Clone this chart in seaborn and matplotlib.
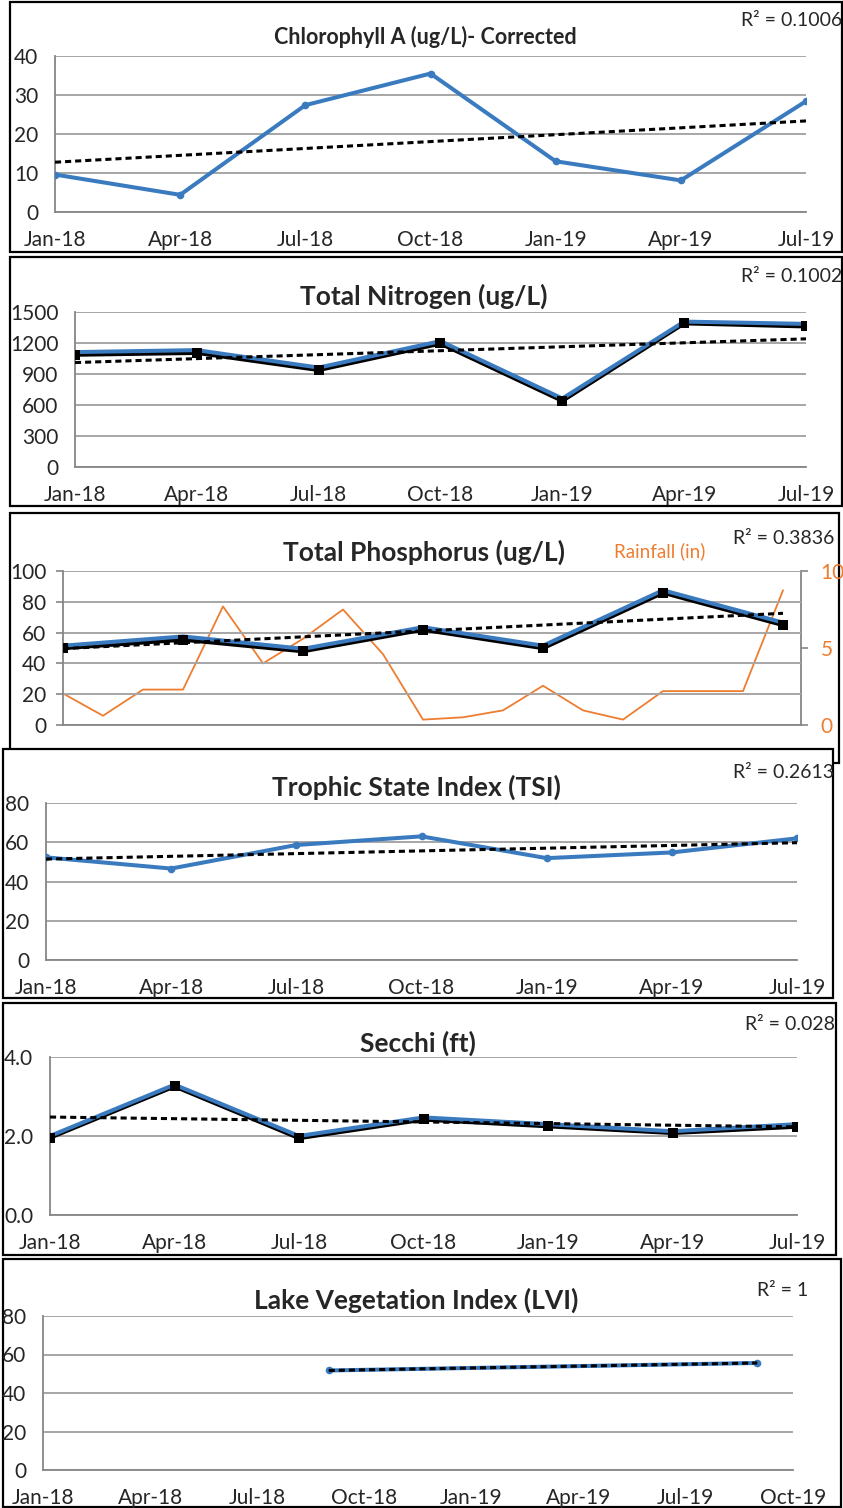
import numpy as np
import pandas as pd
import matplotlib
matplotlib.use('Agg')
import matplotlib.pyplot as plt
import seaborn as sns
from matplotlib.patches import Rectangle
from matplotlib import font_manager

# DATOS
quarters = ['Jan-18', 'Apr-18', 'Jul-18', 'Oct-18', 'Jan-19', 'Apr-19', 'Jul-19']
chla = [9.6, 4.4, 27.4, 35.5, 13.0, 8.1, 28.4]
tn = [1112, 1131, 962, 1218, 663, 1407, 1385]
tn_shadow = [1088, 1106, 940, 1196, 642, 1392, 1362]
tp = [51.5, 57.5, 49.5, 63.5, 51.5, 87.5, 66.5]
tp_shadow = [50, 55.5, 48, 62, 50, 86, 65]
rain_months = ['Jan-18', 'Feb-18', 'Mar-18', 'Apr-18', 'May-18', 'Jun-18', 'Jul-18',
               'Aug-18', 'Sep-18', 'Oct-18', 'Nov-18', 'Dec-18', 'Jan-19', 'Feb-19',
               'Mar-19', 'Apr-19', 'May-19', 'Jun-19', 'Jul-19']
rainfall = [2.05, 0.6, 2.3, 2.3, 7.7, 4.0, 5.6, 7.5, 4.6, 0.35, 0.5, 0.95,
            2.55, 0.95, 0.35, 2.2, 2.2, 2.2, 8.75]
tsi = [52.3, 46.6, 58.6, 63.0, 51.9, 54.8, 62.0]
secchi = [2.0, 3.3, 2.0, 2.47, 2.3, 2.12, 2.3]
secchi_shadow = [1.96, 3.26, 1.95, 2.42, 2.25, 2.08, 2.24]
lvi_dates = ['Sep-18', 'Sep-19']
lvi = [51.7, 55.6]
lvi_ticks = ['Jan-18', 'Apr-18', 'Jul-18', 'Oct-18', 'Jan-19', 'Apr-19', 'Jul-19', 'Oct-19']

titles = ['Chlorophyll A (ug/L)- Corrected', 'Total Nitrogen (ug/L)', 'Total Phosphorus (ug/L)',
          'Trophic State Index (TSI)', 'Secchi (ft)', 'Lake Vegetation Index (LVI)']
r2_labels = ['R² = 0.1006', 'R² = 0.1002', 'R² = 0.3836', 'R² = 0.2613', 'R² = 0.028', 'R² = 1']

BLUE = '#3a7bc0'
ORANGE = '#ed7d31'
GRID = '#a6a6a6'
AXIS = '#868686'


def month_idx(labels):
    d = pd.to_datetime(pd.Series(labels), format='%b-%y')
    return ((d.dt.year - 2018) * 12 + d.dt.month - 1).to_numpy()


xq = month_idx(quarters)
xr = month_idx(rain_months)
xl = month_idx(lvi_dates)
xt6 = month_idx(lvi_ticks)

sns.set_style('white')
names = {f.name for f in font_manager.fontManager.ttflist}
base = next(f for f in ['Liberation Sans Narrow', 'Lato', 'DejaVu Sans'] if f in names)
plt.rcParams['font.family'] = [base, 'DejaVu Sans']

W, H = 843, 1508
fig = plt.figure(figsize=(W / 100, H / 100), dpi=100)


def px_axes(l, t, r, b):
    return fig.add_axes([l / W, 1 - b / H, (r - l) / W, (b - t) / H])


def frame(l, t, r, b, z=-1, fill=False):
    fig.add_artist(Rectangle((l / W, 1 - b / H), (r - l) / W, (b - t) / H,
                             transform=fig.transFigure, fill=fill, fc='white',
                             ec='black', lw=1.6, zorder=z))


def ftext(x, y, s, **kw):
    fig.text(x / W, 1 - y / H, s, va='center', **kw)


def style(ax, ylim, yticks, xlim, xticks, xlabels, yfmt='{:g}'):
    ax.set_xlim(xlim)
    ax.set_ylim(ylim)
    ax.set_yticks(yticks)
    ax.set_yticklabels([yfmt.format(v) for v in yticks])
    ax.set_xticks(xticks)
    ax.set_xticklabels(xlabels)
    ax.grid(axis='y', color=GRID, lw=1.4)
    ax.grid(axis='x', visible=False)
    ax.set_axisbelow(True)
    for s in ['top', 'right']:
        ax.spines[s].set_visible(False)
    for s in ['left', 'bottom']:
        ax.spines[s].set_color(AXIS)
        ax.spines[s].set_linewidth(1.3)
    ax.tick_params(axis='both', length=5, width=1.2, color=AXIS, labelsize=15)
    ax.tick_params(axis='x', pad=8)
    ax.tick_params(axis='y', pad=7)
    ax.set_xlabel('')
    ax.set_ylabel('')


def trend(ax, x, y):
    sns.regplot(x=x, y=y, ax=ax, scatter=False, ci=None, truncate=True,
                line_kws=dict(color='black', lw=2.2, ls=(0, (2.0, 1.3)), zorder=5))


def blue_series(ax, x, y):
    sns.lineplot(x=x, y=y, ax=ax, color=BLUE, lw=2.9, marker='o', markersize=5.5,
                 markeredgewidth=0, zorder=3)


def shadow_series(ax, x, y, yshadow):
    sns.lineplot(x=x, y=yshadow, ax=ax, color='black', lw=3.2, zorder=2)
    sns.lineplot(x=x, y=y, ax=ax, color=BLUE, lw=2.9, zorder=3)
    sns.scatterplot(x=x, y=yshadow, ax=ax, color='black', marker='s', s=55,
                    linewidth=0, zorder=4)


# marcos de cada grafico
frame(10, 2, 842, 252)
frame(10, 257, 842, 506)
frame(10, 513, 839, 763)
frame(3, 749, 833, 998, z=-0.5, fill=True)
frame(3, 1003, 836, 1255)
frame(3, 1259, 841, 1507)

# 1. Clorofila
ax1 = px_axes(55, 56, 806, 212)
blue_series(ax1, xq, chla)
trend(ax1, xq, chla)
style(ax1, (0, 40), [0, 10, 20, 30, 40], (0, 18), xq, quarters)

# 2. Nitrogeno
ax2 = px_axes(75, 312, 806, 467)
shadow_series(ax2, xq, tn, tn_shadow)
trend(ax2, xq, tn)
style(ax2, (0, 1500), [0, 300, 600, 900, 1200, 1500], (0, 18), xq, quarters)

# 3. Fosforo + lluvia
ax3 = px_axes(63, 571, 801, 725)
ax3b = ax3.twinx()
sns.lineplot(x=xr, y=rainfall, ax=ax3b, color=ORANGE, lw=1.3)
ax3b.set_ylim(0, 10)
ax3b.set_yticks([0, 5, 10])
ax3b.set_ylabel('')
for s in ['top', 'left', 'bottom']:
    ax3b.spines[s].set_visible(False)
ax3b.spines['right'].set_color(AXIS)
ax3b.spines['right'].set_linewidth(1.3)
ax3b.tick_params(axis='y', length=5, width=1.2, color=AXIS, labelsize=15,
                 labelcolor=ORANGE, pad=9)
shadow_series(ax3, xq, tp, tp_shadow)
trend(ax3, xq, tp)
style(ax3, (0, 100), [0, 20, 40, 60, 80, 100], (0, 18.45), xq, [''] * len(xq))
ax3.set_zorder(ax3b.get_zorder() + 1)
ax3.patch.set_visible(False)

# 4. TSI
ax4 = px_axes(46, 803, 797, 960)
blue_series(ax4, xq, tsi)
trend(ax4, xq, tsi)
style(ax4, (0, 80), [0, 20, 40, 60, 80], (0, 18), xq, quarters)

# 5. Secchi
ax5 = px_axes(50, 1057, 797, 1215)
shadow_series(ax5, xq, secchi, secchi_shadow)
trend(ax5, xq, secchi)
style(ax5, (0, 4), [0, 2, 4], (0, 18), xq, quarters, yfmt='{:.1f}')

# 6. LVI
ax6 = px_axes(43, 1316, 793, 1470)
blue_series(ax6, xl, lvi)
trend(ax6, xl, lvi)
style(ax6, (0, 80), [0, 20, 40, 60, 80], (0, 21), xt6, lvi_ticks)

# titulos y R2
title_pos = [(425, 37, 15.5), (424, 296, 19), (424, 552, 19),
             (416, 787, 19), (418, 1043, 19), (416, 1300, 19)]
for t, (x, y, fs) in zip(titles, title_pos):
    ftext(x, y, t, ha='center', fontsize=fs, fontweight='bold')

r2_pos = [(741, 20), (741, 277), (733, 538), (733, 772), (745, 1024), (757, 1290)]
for t, (x, y) in zip(r2_labels, r2_pos):
    ftext(x, y, t, ha='left', fontsize=14)

ftext(660, 551, 'Rainfall (in)', ha='center', fontsize=13.5, color=ORANGE)

fig.savefig('out.png', dpi=100)
